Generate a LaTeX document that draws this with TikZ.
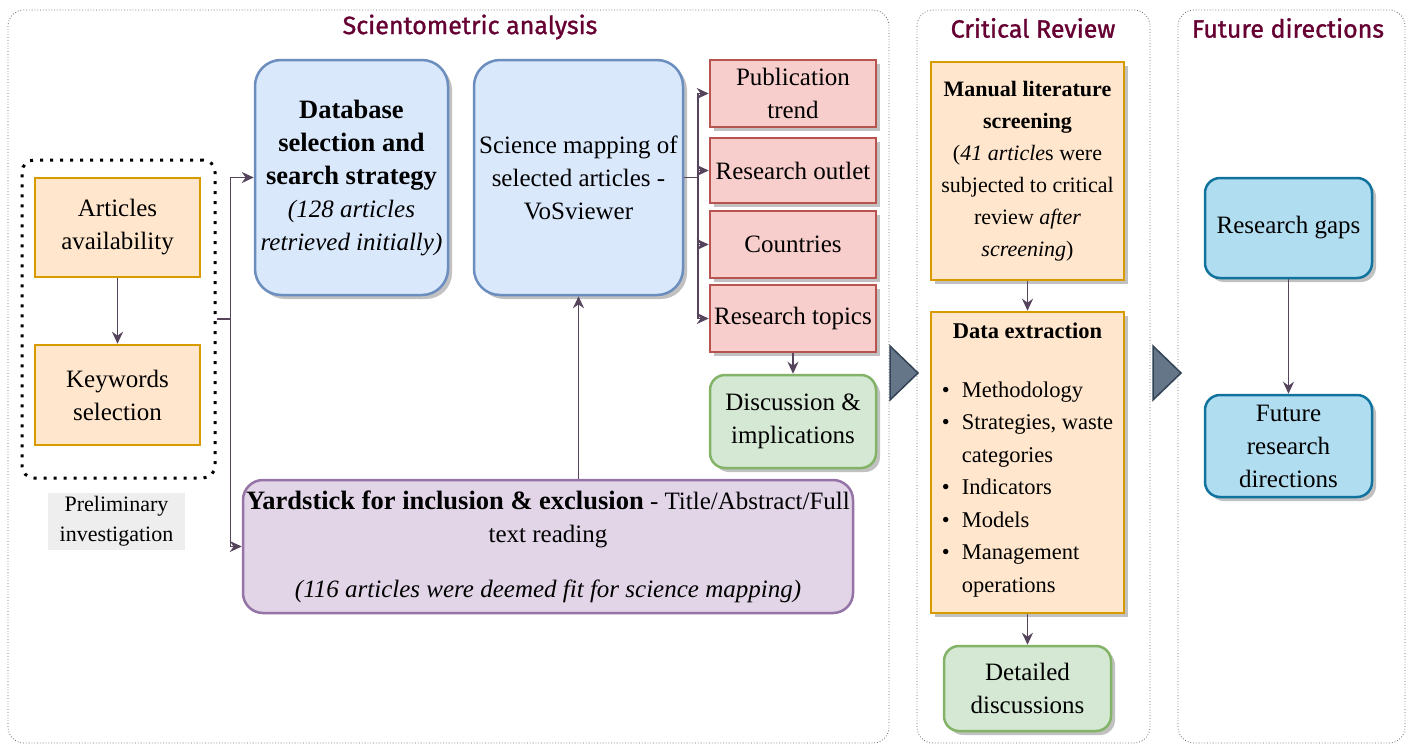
\documentclass[tikz,border=0pt]{standalone}
\usepackage{fontspec}
\setmainfont{LiberationSerif}[Extension=.ttf, UprightFont=*-Regular, BoldFont=*-Bold, ItalicFont=*-Italic, BoldItalicFont=*-BoldItalic]
\newfontfamily\titlefont{Fira Sans}[FakeBold=1.2]
\usetikzlibrary{shadows,arrows.meta}
\definecolor{orfill}{HTML}{FFE6CC}\definecolor{ordraw}{HTML}{D79B00}
\definecolor{blfill}{HTML}{DAE8FC}\definecolor{bldraw}{HTML}{6C8EBF}
\definecolor{rdfill}{HTML}{F8CECC}\definecolor{rddraw}{HTML}{B85450}
\definecolor{grfill}{HTML}{D5E8D4}\definecolor{grdraw}{HTML}{82B366}
\definecolor{pufill}{HTML}{E1D5E7}\definecolor{pudraw}{HTML}{9673A6}
\definecolor{cyfill}{HTML}{B1DDF0}\definecolor{cydraw}{HTML}{10739E}
\definecolor{arrc}{HTML}{56445D}
\definecolor{trifill}{HTML}{647687}\definecolor{tridraw}{HTML}{314354}
\definecolor{titlec}{HTML}{660033}
\definecolor{prelimbg}{HTML}{EEEEEE}
\newcommand{\bigbf}[1]{{\fontsize{26.5}{33}\selectfont\bfseries #1}}
\tikzset{
  box/.style={draw, line width=2.5pt, align=center, inner sep=0pt,
    font=\fontsize{25}{33}\selectfont},
  shad/.style={drop shadow={shadow xshift=4pt, shadow yshift=-4pt, fill=black!30, opacity=0.8}},
  orangebox/.style={box, fill=orfill, draw=ordraw},
  bluebox/.style={box, fill=blfill, draw=bldraw, rounded corners=26pt, shad},
  redbox/.style={box, fill=rdfill, draw=rddraw, shad},
  greenbox/.style={box, fill=grfill, draw=grdraw, rounded corners=15pt, shad},
  purplebox/.style={box, fill=pufill, draw=pudraw, rounded corners=20pt},
  cyanbox/.style={box, fill=cyfill, draw=cydraw, rounded corners=15pt, shad},
  panel/.style={draw=black!60, dotted, line width=0.8pt, rounded corners=16pt},
  paneltitle/.style={text=titlec, font=\titlefont\fontsize{25}{30}\selectfont},
  conn/.style={draw=arrc, line width=1.6pt},
  arr/.style={conn, -{Stealth[length=12pt, width=11pt]}},
  tri/.style={fill=trifill, draw=tridraw, line width=1.5pt, line join=miter},
}
\begin{document}
\begin{tikzpicture}[x=1pt, y=-1pt]
\useasboundingbox (0,0) rectangle (1408,745);
\fill[white] (0,0) rectangle (1408,745);

% panels
\draw[panel] (8,10) rectangle (889,743);
\draw[panel] (917,10) rectangle (1150,743);
\draw[panel] (1178,10) rectangle (1405,743);
\node[paneltitle] (t1) at (470,27) {Scientometric analysis};
\node[paneltitle] (t2) at (1033,28) {Critical Review};
\node[paneltitle] (t3) at (1288,28) {Future directions};

% preliminary group
\node[draw=black, line width=3pt, dash pattern=on 3pt off 7pt, rounded corners=12pt,
      minimum width=193, minimum height=318] (pre) at (118.5,319) {};
\node[orangebox, minimum width=165, minimum height=99] (avail) at (117.5,227.5) {Articles\\availability};
\node[orangebox, minimum width=165, minimum height=100] (kw) at (117.5,395) {Keywords\\selection};
\node[fill=prelimbg, minimum width=137, minimum height=57, inner sep=0pt, align=center,
      font=\fontsize{22}{30}\selectfont] (prel) at (116.5,521.5) {Preliminary\\investigation};

% scientometric boxes
\node[bluebox, minimum width=193, minimum height=235] (db) at (351.5,177.5)
  {\bigbf{Database}\\\bigbf{selection and}\\\bigbf{search strategy}\\\textit{(128 articles}\\\textit{retrieved initially)}};
\node[bluebox, minimum width=209, minimum height=235] (sm) at (578.5,177.5)
  {Science mapping of\\selected articles -\\VoSviewer};
\node[redbox, minimum width=166, minimum height=67] (pub) at (793,93.5) {Publication\\trend};
\node[redbox, minimum width=166, minimum height=65] (out) at (793,170.5) {Research outlet};
\node[redbox, minimum width=166, minimum height=67] (cty) at (793,244.5) {Countries};
\node[redbox, minimum width=166, minimum height=67] (top) at (793,318.5) {Research topics};
\node[greenbox, minimum width=166, minimum height=93] (disc) at (793,421.5) {Discussion \&\\implications};
\node[purplebox, minimum width=610, minimum height=133] (yard) at (548,546.5)
  {\bigbf{Yardstick for inclusion \& exclusion} - Title/Abstract/Full\\text reading\\[22pt]\textit{(116 articles were deemed fit for science mapping)}};

% critical review
\node[orangebox, shad, minimum width=193, minimum height=218, font=\fontsize{22}{32}\selectfont] (man) at (1027.5,171)
  {\textbf{Manual literature}\\\textbf{screening}\\(\textit{41 article}s were\\subjected to critical\\review \textit{after}\\\textit{screening})};
\node[orangebox, shad, minimum width=193, minimum height=301, font=\fontsize{22.5}{32.5}\selectfont] (ext) at (1027.5,462.5)
  {\textbf{Data extraction}\\[26pt]%
   \begin{tabular}[t]{@{}l@{\hspace{12pt}}l@{}}
   \textbullet & Methodology\\
   \textbullet & Strategies, waste\\
               & categories\\
   \textbullet & Indicators\\
   \textbullet & Models\\
   \textbullet & Management\\
               & operations
   \end{tabular}};
\node[greenbox, minimum width=167, minimum height=85] (det) at (1027.5,688.5) {Detailed\\discussions};

% future directions
\node[cyanbox, minimum width=167, minimum height=100] (gap) at (1288.5,228) {Research gaps};
\node[cyanbox, minimum width=167, minimum height=102] (fut) at (1288.5,446) {Future\\research\\directions};

% connectors
\draw[arr] (avail) -- (kw);
\draw[conn] (pre.east) -- ++(14,0) coordinate (j1);
\draw[arr] (j1) |- (db.west);
\draw[arr] (j1) |- (yard.west);
\draw[conn] (sm.east) -- ++(14,0) coordinate (j2);
\draw[arr] (j2) |- (pub.west);
\draw[arr] (j2) |- (out.west);
\draw[arr] (j2) |- (cty.west);
\draw[arr] (j2) |- (top.west);
\draw[arr] (top) -- (disc);
\draw[arr] (sm.south |- yard.north) -- (sm.south);
\draw[arr] (man) -- (ext);
\draw[arr] (ext) -- (det);
\draw[arr] (gap) -- (fut);

% stage triangles
\filldraw[tri] (890,346) -- (918,373) -- (890,400) -- cycle;
\filldraw[tri] (1153,346) -- (1181,373) -- (1153,400) -- cycle;
\end{tikzpicture}
\end{document}
